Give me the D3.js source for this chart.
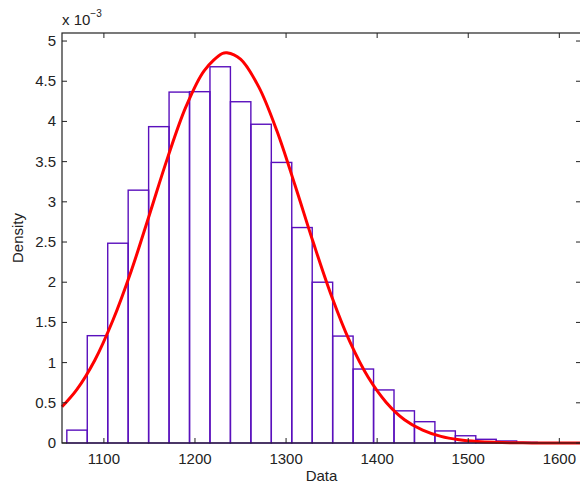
<!DOCTYPE html>
<html>
<head>
<meta charset="utf-8">
<script src="https://cdn.jsdelivr.net/npm/d3@7"></script>
<style>
  body { margin: 0; background: #fff; }
  svg { display: block; font-family: "Liberation Sans", Arial, sans-serif; }
</style>
</head>
<body>
<div id="chart"></div>
<script>
// histogram bins (left edge, data units) and density (x 1e-3)
var binLeft = [1059.3, 1081.75, 1104.2, 1126.65, 1149.1, 1171.55, 1194.0, 1216.45,
               1238.9, 1261.35, 1283.8, 1306.25, 1328.7, 1351.15, 1373.6, 1396.05,
               1418.5, 1440.95, 1463.4, 1485.85, 1508.3, 1530.75, 1553.2, 1575.65];
var binWidth = 22.45;
var binDensity = [0.16, 1.335, 2.485, 3.145, 3.935, 4.365, 4.37, 4.68,
                  4.245, 3.965, 3.49, 2.68, 2.0, 1.33, 0.92, 0.66,
                  0.40, 0.265, 0.15, 0.09, 0.046, 0.025, 0.008, 0.004];

// fitted density curve
var fitX = [1054, 1070, 1090, 1110, 1130, 1150, 1170, 1190, 1210, 1230, 1235, 1250,
            1270, 1290, 1310, 1330, 1350, 1370, 1390, 1410, 1430, 1450, 1470, 1490,
            1510, 1530, 1560, 1590, 1624];
var fitY = [0.45, 0.66, 1.03, 1.53, 2.14, 2.84, 3.55, 4.18, 4.63, 4.845, 4.855, 4.775,
            4.43, 3.88, 3.20, 2.49, 1.825, 1.26, 0.82, 0.505, 0.29, 0.16, 0.082, 0.04,
            0.018, 0.008, 0.002, 0.0004, 0];

var xTicks = [1100, 1200, 1300, 1400, 1500, 1600];
var yTicks = [0, 0.5, 1, 1.5, 2, 2.5, 3, 3.5, 4, 4.5, 5];

var W = 580, H = 486;
var margin = {top: 33, left: 62, right: 581, bottom: 443};

var svg = d3.select('#chart').append('svg')
    .attr('width', W)
    .attr('height', H);

var x = d3.scaleLinear().domain([1054, 1623.8]).range([margin.left, margin.right]);
var y = d3.scaleLinear().domain([0, 5.1]).range([margin.bottom, margin.top]);

// bars
svg.append('g').selectAll('rect')
    .data(binLeft)
    .enter().append('rect')
    .attr('x', function(d) { return x(d); })
    .attr('width', function(d) { return x(d + binWidth) - x(d); })
    .attr('y', function(d, i) { return y(binDensity[i]); })
    .attr('height', function(d, i) { return y(0) - y(binDensity[i]); })
    .attr('fill', 'none')
    .attr('stroke', '#5a10bd')
    .attr('stroke-width', 1.4);

// fit curve
var line = d3.line()
    .x(function(d, i) { return x(fitX[i]); })
    .y(function(d) { return y(d); })
    .curve(d3.curveCatmullRom);

svg.append('path')
    .datum(fitY)
    .attr('d', line)
    .attr('fill', 'none')
    .attr('stroke', '#ff0000')
    .attr('stroke-width', 3);

// axes (matlab style: ticks pointing in, box)
var tickLen = 5;
var axisColor = '#222';
var fontSize = 15;

svg.append('rect')
    .attr('x', margin.left).attr('y', margin.top)
    .attr('width', margin.right - margin.left)
    .attr('height', margin.bottom - margin.top)
    .attr('fill', 'none')
    .attr('stroke', axisColor)
    .attr('stroke-width', 1.2);

var xAx = svg.append('g');
xTicks.forEach(function(t) {
    xAx.append('line')
        .attr('x1', x(t)).attr('x2', x(t))
        .attr('y1', margin.bottom).attr('y2', margin.bottom - tickLen)
        .attr('stroke', axisColor);
    xAx.append('line')
        .attr('x1', x(t)).attr('x2', x(t))
        .attr('y1', margin.top).attr('y2', margin.top + tickLen)
        .attr('stroke', axisColor);
    xAx.append('text')
        .attr('x', x(t)).attr('y', margin.bottom + 21)
        .attr('text-anchor', 'middle')
        .attr('font-size', fontSize)
        .attr('fill', '#222')
        .text(t);
});

var yAx = svg.append('g');
yTicks.forEach(function(t) {
    yAx.append('line')
        .attr('x1', margin.left).attr('x2', margin.left + tickLen)
        .attr('y1', y(t)).attr('y2', y(t))
        .attr('stroke', axisColor);
    yAx.append('line')
        .attr('x1', margin.right).attr('x2', margin.right - tickLen)
        .attr('y1', y(t)).attr('y2', y(t))
        .attr('stroke', axisColor);
    yAx.append('text')
        .attr('x', margin.left - 6).attr('y', y(t) + 5)
        .attr('text-anchor', 'end')
        .attr('font-size', fontSize)
        .attr('fill', '#222')
        .text(t);
});

// exponent label
var expo = svg.append('text')
    .attr('x', margin.left).attr('y', 25)
    .attr('font-size', fontSize)
    .attr('fill', '#222');
expo.append('tspan').text('x 10');
expo.append('tspan').attr('dy', -8).attr('font-size', 10).text('\u22123');

// axis labels
svg.append('text')
    .attr('x', (margin.left + margin.right) / 2).attr('y', 481)
    .attr('text-anchor', 'middle')
    .attr('font-size', fontSize)
    .attr('fill', '#222')
    .text('Data');

svg.append('text')
    .attr('transform', 'translate(23,' + (margin.top + margin.bottom) / 2 + ') rotate(-90)')
    .attr('text-anchor', 'middle')
    .attr('font-size', fontSize)
    .attr('fill', '#222')
    .text('Density');
</script>
</body>
</html>
